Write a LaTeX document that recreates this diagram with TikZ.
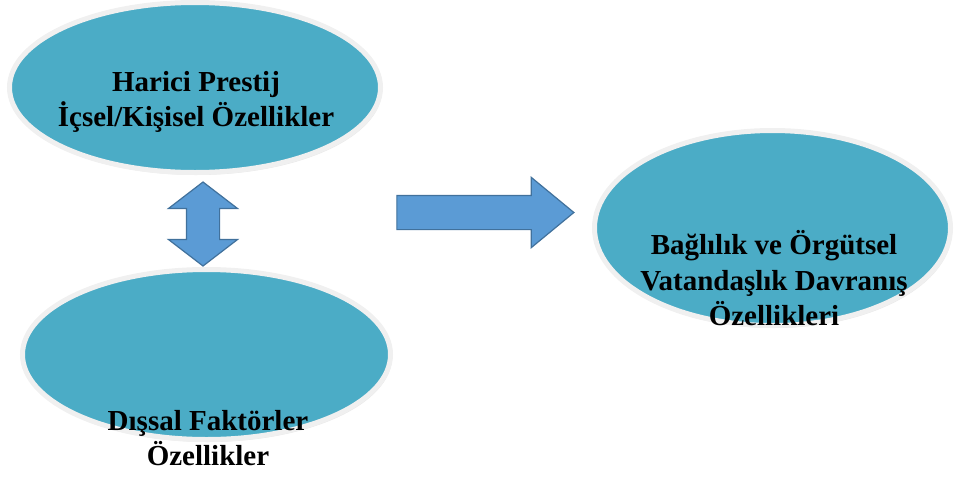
\documentclass[tikz,border=0pt]{standalone}
\usepackage{fontspec}
\setmainfont{Liberation Serif}
\usepackage{tikz}
\usetikzlibrary{positioning,shapes.geometric,shapes.arrows,shadows}
\definecolor{ovalfill}{HTML}{4BACC6}
\definecolor{ovalrim}{HTML}{F0F0F0}
\definecolor{pilfill}{HTML}{5B9BD5}
\definecolor{pilrim}{HTML}{41719C}
\tikzset{
  % ovaller
  oval/.style={ellipse,fill=ovalfill,draw=ovalrim,line width=5pt,inner sep=0pt,
               drop shadow={shadow xshift=1.5pt,shadow yshift=-2.5pt,opacity=0.18}},
  etiket/.style={align=center,inner sep=0pt,
                 font=\fontsize{29}{35.5}\selectfont\bfseries},
  % pilar
  blockpil/.style={fill=pilfill,draw=pilrim,line width=1.2pt,inner xsep=0pt},
}
\begin{document}
\begin{tikzpicture}[x=1pt,y=-1pt]
\useasboundingbox (0,0) rectangle (955,477);
  \node[oval,minimum width=371,minimum height=170] (ic) at (195,87.5) {};
  \node[oval,minimum width=368,minimum height=170] (dis) at (206.5,354.5) {};
  \node[oval,minimum width=356,minimum height=195] (sonuc) at (772.5,228) {};
  \node[etiket] (ictxt) at (196,102) {Harici Prestij\\İçsel/Kişisel Özellikler};
  \node[etiket] (distxt) at (208,438) {Dışsal Faktörler\\Özellikler};
  \node[etiket] (sonuctxt) at (774,278.5) {Bağlılık ve Örgütsel\\Vatandaşlık Davranış\\Özellikleri};
  \node[blockpil,double arrow,rotate=90,minimum height=84,inner ysep=16pt,
        double arrow head extend=18pt,double arrow tip angle=105] (iki) at (203,224) {};
  \node[blockpil,single arrow,minimum height=177,inner ysep=16.5pt,
        single arrow head extend=18pt,single arrow tip angle=79] (ileri) at (475,212.5) {};
\end{tikzpicture}
\end{document}
